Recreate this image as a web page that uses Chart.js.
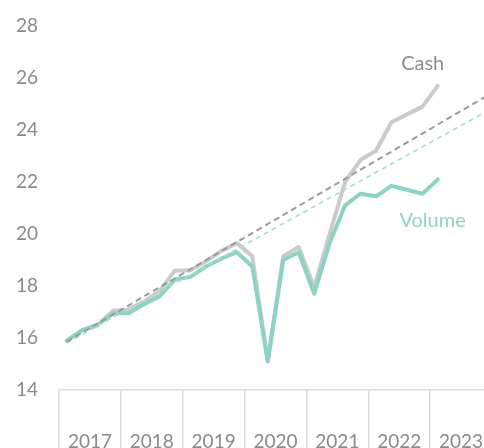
<!DOCTYPE html>
<html>
<head>
<meta charset="utf-8">
<script src="https://cdn.jsdelivr.net/npm/chart.js@4/dist/chart.umd.min.js"></script>
<style>
  html, body { margin: 0; padding: 0; background: #fff; overflow: hidden; width: 484px; height: 448px; }
  #wrap { width: 492px; height: 448px; position: relative; }
</style>
</head>
<body>
<div id="wrap"><canvas id="c"></canvas></div>
<script>
// Years shown on the axis
const years = ['2017', '2018', '2019', '2020', '2021', '2022', '2023'];
// Quarterly positions (year + quarter centre), 2017 Q1 .. 2023 Q1
const quarters = [
  2017.125, 2017.375, 2017.625, 2017.875,
  2018.125, 2018.375, 2018.625, 2018.875,
  2019.125, 2019.375, 2019.625, 2019.875,
  2020.125, 2020.375, 2020.625, 2020.875,
  2021.125, 2021.375, 2021.625, 2021.875,
  2022.125, 2022.375, 2022.625, 2022.875,
  2023.125
];
const cashValues = [
  15.9, 16.3, 16.5, 17.05,
  17.1, 17.4, 17.8, 18.6,
  18.6, 18.95, 19.35, 19.65,
  19.15, 15.1, 19.15, 19.5,
  17.95, 20.0, 22.0, 22.85,
  23.2, 24.3, 24.6, 24.9,
  25.7
];
const volumeValues = [
  15.9, 16.3, 16.5, 16.95,
  16.95, 17.3, 17.6, 18.25,
  18.35, 18.75, 19.05, 19.3,
  18.75, 15.1, 19.0, 19.3,
  17.7, 19.65, 21.1, 21.55,
  21.45, 21.85, 21.7, 21.55,
  22.1
];
// Trend lines: start and end points
const trendX = [2017.125, 2024];
const cashTrend = [15.86, 25.43];
const volumeTrend = [15.81, 24.83];
// Y tick range
const yMin = 14, yMax = 28, yStep = 2;
// Series annotation labels
const seriesLabels = [
  { text: 'Cash', x: 2022.88, y: 26.54, color: '#8c8c8c' },
  { text: 'Volume', x: 2023.04, y: 20.5, color: '#8fd3c4' }
];

const pts = (xs, ys) => xs.map((x, i) => ({ x: x, y: ys[i] }));

const labelPlugin = {
  id: 'seriesLabels',
  afterDatasetsDraw(chart) {
    const ctx = chart.ctx;
    const sx = chart.scales.x, sy = chart.scales.y;
    ctx.save();
    ctx.font = '20px Lato';
    ctx.textAlign = 'center';
    ctx.textBaseline = 'middle';
    seriesLabels.forEach(l => {
      ctx.fillStyle = l.color;
      ctx.fillText(l.text, sx.getPixelForValue(l.x), sy.getPixelForValue(l.y));
    });
    ctx.restore();
  }
};

new Chart(document.getElementById('c'), {
  type: 'line',
  data: {
    datasets: [
      { label: 'Cash trend', data: pts(trendX, cashTrend), borderColor: '#9a9a9a', borderWidth: 2, borderDash: [6, 4], pointRadius: 0, xAxisID: 'x', yAxisID: 'y' },
      { label: 'Volume trend', data: pts(trendX, volumeTrend), borderColor: '#a6ddd1', borderWidth: 1.6, borderDash: [5, 4], pointRadius: 0, xAxisID: 'x', yAxisID: 'y' },
      { label: 'Volume', data: pts(quarters, volumeValues), borderColor: '#8dd3c3', borderWidth: 4, borderJoinStyle: 'round', borderCapStyle: 'round', pointRadius: 0, xAxisID: 'x', yAxisID: 'y' },
      { label: 'Cash', data: pts(quarters, cashValues), borderColor: '#cbcbcb', borderWidth: 4, borderJoinStyle: 'round', borderCapStyle: 'round', pointRadius: 0, xAxisID: 'x', yAxisID: 'y' }
    ]
  },
  options: {
    responsive: true,
    maintainAspectRatio: false,
    animation: false,
    layout: { padding: { top: 26, left: 0, right: 0, bottom: 0 } },
    plugins: { legend: { display: false }, tooltip: { enabled: false }, title: { display: false } },
    scales: {
      x: {
        type: 'linear', display: false, min: 2017, max: 2024
      },
      xYear: {
        type: 'category', labels: years, position: 'bottom', offset: true,
        grid: { offset: true, drawOnChartArea: false, drawTicks: true, tickLength: 58, color: '#dcdcdc', lineWidth: 1.5 },
        border: { display: true, color: '#dcdcdc', width: 1.5 },
        ticks: { padding: -18, color: '#8a8a8a', font: { family: 'Lato', size: 19 }, maxRotation: 0, autoSkip: false },
        afterFit(scale) { scale.height = 58; }
      },
      y: {
        type: 'linear', min: yMin, max: yMax,
        grid: { display: false, drawTicks: false },
        border: { display: false },
        ticks: { stepSize: yStep, padding: 21, color: '#8a8a8a', font: { family: 'Lato', size: 19 } },
        afterFit(scale) { scale.width = 59; scale.paddingTop = 0; scale.paddingBottom = 0; }
      }
    }
  },
  plugins: [labelPlugin]
});
</script>
</body>
</html>
